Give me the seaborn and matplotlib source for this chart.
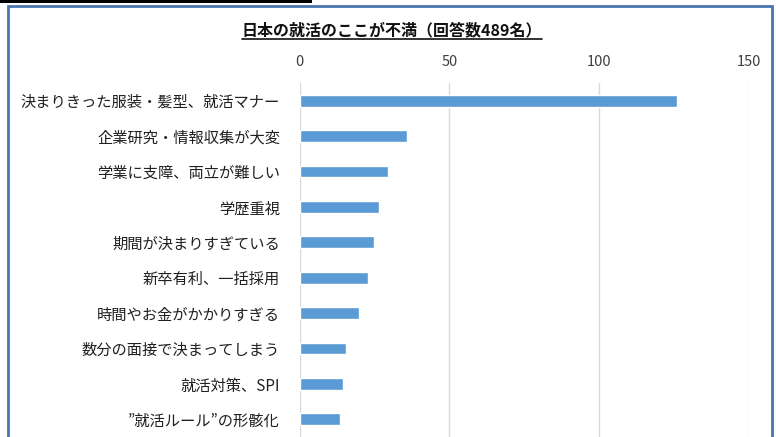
import matplotlib
matplotlib.use("Agg")
import matplotlib.pyplot as plt
from matplotlib.patches import Rectangle
from matplotlib.lines import Line2D
import pandas as pd
import seaborn as sns

title = "日本の就活のここが不満（回答数489名）"
categories = [
    "決まりきった服装・髪型、就活マナー",
    "企業研究・情報収集が大変",
    "学業に支障、両立が難しい",
    "学歴重視",
    "期間が決まりすぎている",
    "新卒有利、一括採用",
    "時間やお金がかかりすぎる",
    "数分の面接で決まってしまう",
    "就活対策、SPI",
    "”就活ルール”の形骸化",
]
counts = [126, 36, 29.5, 26.6, 24.7, 22.8, 19.8, 15.4, 14.5, 13.5]
x_ticks = [0, 50, 100, 150]

sns.set_theme(style="white")
plt.rcParams["font.family"] = ["Noto Sans CJK JP", "DejaVu Sans"]

df = pd.DataFrame({"item": categories, "count": counts})

W, H = 776, 437
fig = plt.figure(figsize=(W / 100, H / 100), dpi=100)
ax = fig.add_axes([299.5 / W, 0.0, (749 - 299.5) / W, 1 - 83 / H])

sns.barplot(data=df, y="item", x="count", orient="h", color="#5B9BD5",
            width=0.33, saturation=1, ax=ax)

ax.set_xlim(0, 150)
ax.set_xticks(x_ticks)
ax.xaxis.tick_top()
ax.tick_params(axis="x", length=0, pad=10, labelsize=10.5, labelcolor="#404040")
ax.tick_params(axis="y", length=0, pad=14, labelsize=11, labelcolor="#202020")
ax.set_xlabel("")
ax.set_ylabel("")
ax.grid(axis="x", color="#D9D9D9", linewidth=1)
ax.set_axisbelow(True)
for s in ax.spines.values():
    s.set_visible(False)

# title with underline
t = fig.text(392 / W, 1 - 30 / H, title, ha="center", va="center",
             fontsize=11.5, fontweight="bold", color="#111111")
fig.canvas.draw()
bb = t.get_window_extent(fig.canvas.get_renderer())
y_ul = (bb.y0 - 1) / H
fig.add_artist(Line2D([bb.x0 / W, bb.x1 / W], [y_ul, y_ul],
                      color="#111111", linewidth=1.2, transform=fig.transFigure))

# outer frame and black strip at top
fig.add_artist(Rectangle((8 / W, -0.05), (772 - 8) / W, 1.05 - 6 / H,
                         fill=False, edgecolor="#4A76AE", linewidth=2,
                         transform=fig.transFigure))
fig.add_artist(Rectangle((0, 1 - 3 / H), 312 / W, 3 / H, facecolor="black",
                         edgecolor="none", transform=fig.transFigure))

fig.savefig("out.png", dpi=100)
